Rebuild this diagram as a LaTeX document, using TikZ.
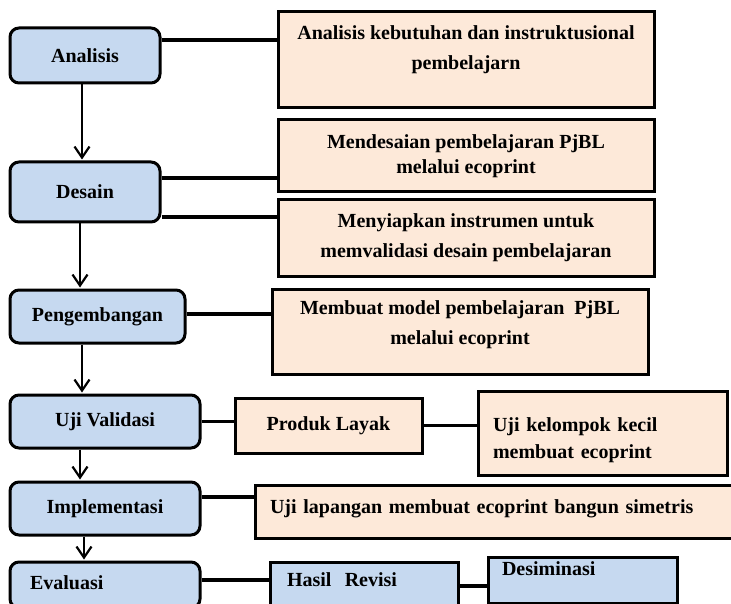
\documentclass[tikz,border=0pt]{standalone}
\usepackage{fontspec}
\setmainfont{Liberation Serif}
\usetikzlibrary{arrows.meta}
\definecolor{stageblue}{RGB}{198,217,240}
\definecolor{taskpeach}{RGB}{253,233,217}

\begin{document}
\begin{tikzpicture}[x=1pt,y=-1pt,shorten >=1pt,>={Straight Barb[length=11pt,width=15pt]}]
    \tikzstyle{every node}=[font=\fontsize{20}{30}\selectfont\bfseries]
    \tikzstyle{box}=[draw=black,line width=3pt,inner sep=0pt,align=center]
    \tikzstyle{stage}=[box,rounded corners=9pt,fill=stageblue]
    \tikzstyle{task}=[box,fill=taskpeach]
    \tikzstyle{result}=[box,fill=stageblue]
    \tikzstyle{flow}=[->,line width=2.2pt]
    \tikzstyle{link}=[-,line width=3.5pt,shorten >=0pt]

    \useasboundingbox (0,0) rectangle (731,604);

    % Draw the stages on the left
    \foreach \name/\x/\y/\w/\h/\txt in {A/85/55.5/150/55/Analisis,
        D/85/192/150/60/Desain,
        P/97.5/316.5/175/53/Pengembangan,
        U/105/421.5/190/53/Uji Validasi,
        I/105/508.5/190/53/Implementasi}
        \node[stage,minimum width=\w pt,minimum height=\h pt] (\name) at (\x,\y) {\txt};
    \node[stage,minimum width=190pt,minimum height=46pt,align=left,text width=150pt,inner xsep=20pt,text depth=4pt] (E) at (105,585) {Evaluasi};

    % Draw the tasks of every stage
    \node[task,minimum width=376pt,minimum height=96pt,text depth=24pt] (R1) at (466,60)
        {Analisis kebutuhan dan instruktusional\\pembelajarn};
    \node[task,minimum width=376pt,minimum height=72pt] (R2) at (466,156)
        {Mendesaian pembelajaran PjBL\\[-5pt]melalui ecoprint};
    \node[task,minimum width=376pt,minimum height=76pt] (R3) at (466,238)
        {Menyiapkan instrumen untuk\\memvalidasi desain pembelajaran};
    \node[task,minimum width=376pt,minimum height=85pt,text depth=17pt] (R4) at (460,331.5)
        {Membuat model pembelajaran\ \ PjBL\\melalui ecoprint};
    \node[task,minimum width=187pt,minimum height=55pt] (PL) at (328.5,425.5) {Produk Layak};
    \node[task,minimum width=249pt,minimum height=84pt,align=left,text width=219pt,inner xsep=15pt,text depth=17pt] (UK) at (602.5,433)
        {Uji kelompok kecil\\[-3pt]membuat ecoprint};
    \node[task,minimum width=490pt,minimum height=53pt,align=left,text width=460pt,inner xsep=15pt,text depth=9pt] (UL) at (500,511.5)
        {Uji lapangan membuat ecoprint\ bangun simetris};
    \node[result,minimum width=188pt,minimum height=48pt,align=left,text width=154pt,inner xsep=17pt,text depth=12pt] (HR) at (364,586) {Hasil\ \ Revisi};
    \node[result,minimum width=189pt,minimum height=46pt,align=left,text width=161pt,inner xsep=14pt,text depth=22pt] (DS) at (582.5,580) {Desiminasi};

    % Connect the stages from top to bottom
    \foreach \a/\b/\x in {A/D/82,D/P/80,P/U/82,U/I/80,I/E/84}
        \draw[flow] (\a.south -| \x,0) -- (\b.north -| \x,0);

    % Connect every stage with its tasks
    \draw[link] ([yshift=15.5pt]A.east) -- ([yshift=15.5pt]A.east -| R1.west);
    \draw[link] ([yshift=14pt]D.east) -- ([yshift=14pt]D.east -| R2.west);
    \draw[link] ([yshift=-25pt]D.east) -- ([yshift=-25pt]D.east -| R3.west);
    \draw[link] ([yshift=2.5pt]P.east) -- ([yshift=2.5pt]P.east -| R4.west);
    \draw[link] (U.east) -- (U.east -| PL.west);
    \draw[link] (PL.east) -- (PL.east -| UK.west);
    \draw[link] ([yshift=11.5pt]I.east) -- ([yshift=11.5pt]I.east -| UL.west);
    \draw[link] ([yshift=5pt]E.east) -- ([yshift=5pt]E.east -| HR.west);
    \draw[link] (HR.east) -- (HR.east -| DS.west);
\end{tikzpicture}
\end{document}
